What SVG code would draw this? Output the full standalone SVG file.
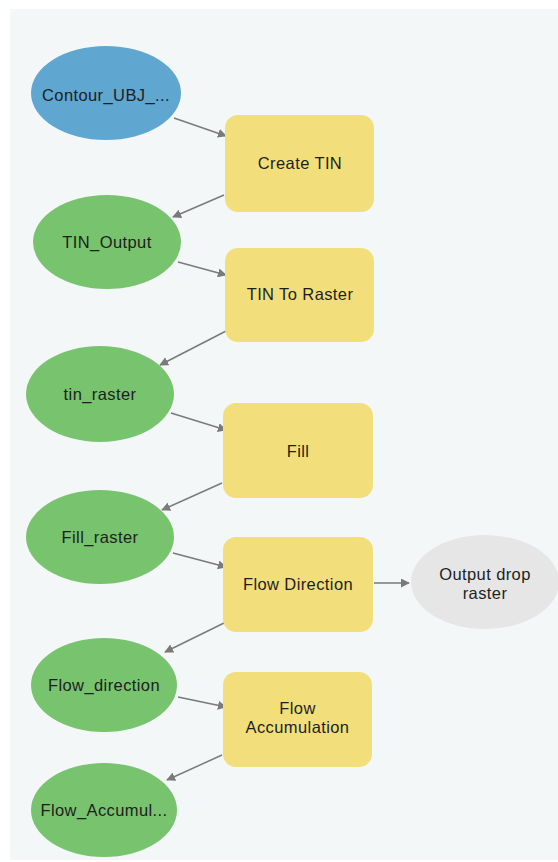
<svg xmlns="http://www.w3.org/2000/svg" width="558" height="862" viewBox="0 0 558 862">
<defs>
<style>
.bg{fill:#f4f7f8}
.data{fill:#78c36e}
.input{fill:#5fa6d1}
.tool{fill:#f2df7c}
.derived{fill:#e6e6e6}
text{font-family:"Liberation Sans",Arial,sans-serif;font-size:16.5px;letter-spacing:0.4px;fill:#1e1e1e;text-anchor:middle;dominant-baseline:central}
.conn{stroke:#7a7a7a;stroke-width:1.5;fill:none;marker-end:url(#ah)}
</style>
<marker id="ah" viewBox="0 0 10 10" refX="9" refY="5" markerWidth="9" markerHeight="9" markerUnits="userSpaceOnUse" orient="auto">
<path d="M0,0 L10,5 L0,10 z" fill="#7a7a7a"/>
</marker>
</defs>
<rect x="0" y="0" width="558" height="862" fill="#ffffff"/>
<rect class="bg" x="10" y="9" width="548" height="851"/>
<g id="connectors">
<line class="conn" x1="174" y1="118" x2="226" y2="136"/>
<line class="conn" x1="224" y1="195" x2="173" y2="217"/>
<line class="conn" x1="178" y1="262" x2="226" y2="275"/>
<line class="conn" x1="228" y1="330" x2="160" y2="365"/>
<line class="conn" x1="171" y1="413" x2="226" y2="430"/>
<line class="conn" x1="222" y1="483" x2="162" y2="510"/>
<line class="conn" x1="173" y1="553" x2="226" y2="567"/>
<line class="conn" x1="374" y1="583" x2="409" y2="583"/>
<line class="conn" x1="224" y1="623" x2="165" y2="652"/>
<line class="conn" x1="178" y1="697" x2="226" y2="707"/>
<line class="conn" x1="222" y1="755" x2="167" y2="780"/>
</g>
<g id="contour"><ellipse class="input" cx="106" cy="93" rx="75" ry="47"/><text x="106" y="95">Contour_UBJ_...</text></g>
<g id="create-tin"><rect class="tool" x="225" y="115" width="149" height="97" rx="13"/><text x="300" y="163">Create TIN</text></g>
<g id="tin-output"><ellipse class="data" cx="107" cy="242" rx="74" ry="47"/><text x="107" y="242">TIN_Output</text></g>
<g id="tin-to-raster"><rect class="tool" x="225" y="248" width="149" height="94" rx="13"/><text x="300" y="294">TIN To Raster</text></g>
<g id="tin-raster"><ellipse class="data" cx="100" cy="394" rx="74" ry="48"/><text x="100" y="394">tin_raster</text></g>
<g id="fill"><rect class="tool" x="223" y="403" width="150" height="95" rx="13"/><text x="298" y="451">Fill</text></g>
<g id="fill-raster"><ellipse class="data" cx="100" cy="537" rx="74" ry="47"/><text x="100" y="537">Fill_raster</text></g>
<g id="flow-direction"><rect class="tool" x="223" y="537" width="150" height="95" rx="13"/><text x="298" y="584">Flow Direction</text></g>
<g id="output-drop"><ellipse class="derived" cx="485" cy="582" rx="74" ry="47"/><text x="485" y="574">Output drop</text><text x="485" y="593">raster</text></g>
<g id="flow-direction-out"><ellipse class="data" cx="104" cy="685" rx="73" ry="47"/><text x="104" y="685">Flow_direction</text></g>
<g id="flow-accumulation"><rect class="tool" x="223" y="672" width="149" height="95" rx="13"/><text x="297.5" y="708">Flow</text><text x="297.5" y="727">Accumulation</text></g>
<g id="flow-accumul-out"><ellipse class="data" cx="104" cy="810" rx="73" ry="47"/><text x="104" y="810">Flow_Accumul...</text></g>
</svg>
